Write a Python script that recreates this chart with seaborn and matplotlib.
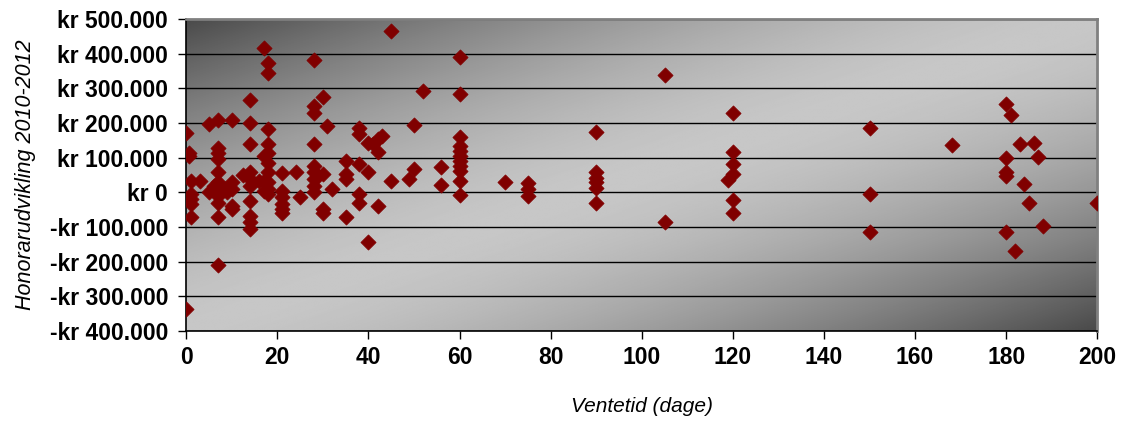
import matplotlib
matplotlib.use("Agg")
import matplotlib.pyplot as plt
import numpy as np
import pandas as pd
import seaborn as sns
from matplotlib.ticker import FuncFormatter, MultipleLocator

# waiting time (days) and fee development 2010-2012 (thousand kr)
ventetid = [
    0, 0.5, 0.5, 1, 1, 1, 1, 1, 0,
    3, 5, 7, 10,
    7, 7, 7, 7, 7, 7, 7, 7, 7, 7,
    5, 6, 8.5, 10, 10, 10, 10, 9,
    14, 14, 14, 12.5, 14, 14, 14, 14, 14, 14, 14,
    17, 18, 18, 18, 18, 18, 17, 18, 18, 17, 18, 18, 17, 18, 16,
    21, 21, 21, 21, 21, 21,
    24, 25,
    28, 28, 28, 28, 28, 28, 28, 28, 28, 29,
    30, 30, 30, 30, 31, 32,
    35, 35, 35, 35,
    38, 38, 38, 38, 38,
    40, 40, 40, 42, 42, 41, 43, 42, 45, 45,
    52, 50, 50, 49, 56, 56,
    60, 60, 60, 60, 60, 60, 60, 60, 60, 60, 60,
    70, 75, 75, 75,
    90, 90, 90, 90, 90, 90,
    105, 105,
    120, 120, 120, 120, 119, 120, 120,
    150, 150, 150,
    168,
    180, 181, 180, 180, 180, 183, 186, 187, 184, 185, 200, 180, 188, 182,
]
honorar_k = [
    171, 115, 105, 34, -5, -19, -34, -72, -336,
    32, 197, 208, 208,
    129, 115, 96, 58, 29, 10, -10, -29, -72, -209,
    0, 19, 10, 29, 10, -38, -48, 0,
    268, 199, 139, 51, 58, 38, 19, -24, -67, -86, -105,
    417, 374, 345, 182, 139, 115, 105, 86, 58, 34, 29, 10, 5, -5, 34,
    55, 5, -14, -34, -48, -60,
    58, -14,
    382, 249, 230, 141, 77, 58, 38, 19, 2, 48,
    276, 53, -48, -60, 192, 10,
    91, 53, 38, -72,
    185, 168, 82, -5, -29,
    144, 58, -144, -38, 117, 139, 163, 153, 34, 465,
    294, 194, 69, 38, 72, 22,
    390, 283, 160, 134, 120, 105, 91, 77, 62, 34, -8,
    29, 27, 10, -11,
    173, 58, 43, 29, 14, -29,
    338, -84,
    228, 117, 81, 53, 36, -21, -58,
    185, -5, -115,
    136,
    256, 222, 98, 58, 46, 139, 144, 103, 24, -29, -29, -115, -98, -168,
]

df = pd.DataFrame({"ventetid": ventetid, "honorar": np.array(honorar_k) * 1000})

sns.set_style("white")
plt.rcParams["font.family"] = ["Liberation Sans", "DejaVu Sans"]

fig = plt.figure(figsize=(11.22, 4.24), dpi=100)
ax = fig.add_axes([0.166, 0.219, 0.812, 0.736])

# diagonal grey gradient behind the plot area
n = 300
u, v = np.meshgrid(np.linspace(0, 1, n), np.linspace(1, 0, n))
t = (u + (1 - v)) / 2
shade = 0.78 - (0.78 - 0.29) * np.abs(2 * t - 1) ** 1.6
ax.imshow(shade, cmap="gray", vmin=0, vmax=1, extent=[0, 1, 0, 1],
          transform=ax.transAxes, aspect="auto", zorder=0, interpolation="bilinear")

sns.scatterplot(data=df, x="ventetid", y="honorar", ax=ax, marker="D", s=60,
                color="#800000", edgecolor="#800000", linewidth=0.5, zorder=3)

ax.set_xlim(0, 200)
ax.set_ylim(-400000, 500000)
ax.xaxis.set_major_locator(MultipleLocator(20))
ax.yaxis.set_major_locator(MultipleLocator(100000))


def kr(v, pos):
    s = f"{abs(v):,.0f}".replace(",", ".")
    return f"-kr {s}" if v < 0 else f"kr {s}"


ax.yaxis.set_major_formatter(FuncFormatter(kr))
ax.yaxis.grid(True, color="black", linewidth=1.0, zorder=1)
ax.xaxis.grid(False)
ax.set_axisbelow(True)

for side in ("top", "right"):
    ax.spines[side].set_color("#808080")
    ax.spines[side].set_linewidth(2)
for side in ("left", "bottom"):
    ax.spines[side].set_color("black")
    ax.spines[side].set_linewidth(1.2)

ax.tick_params(axis="both", direction="out", length=6, width=1, color="black",
               labelcolor="black", labelsize=16.5, left=True, bottom=True)
ax.tick_params(axis="y", pad=7)
ax.tick_params(axis="x", pad=5)
for lab in ax.get_xticklabels() + ax.get_yticklabels():
    lab.set_fontweight("bold")

ax.set_xlabel("Ventetid (dage)", fontsize=15, fontstyle="italic", labelpad=20,
              color="black")
ax.set_ylabel("Honorarudvikling 2010-2012", fontsize=15.5, fontstyle="italic",
              labelpad=10, color="black")

fig.savefig("out.png", dpi=100)
